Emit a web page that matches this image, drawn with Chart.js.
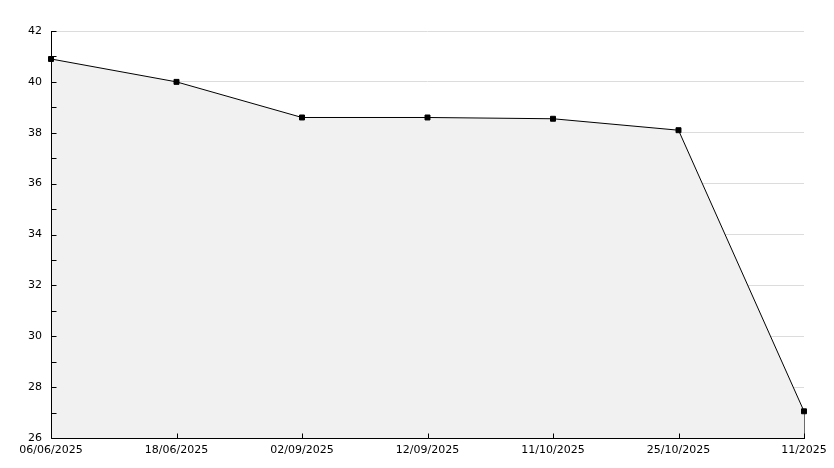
<!DOCTYPE html>
<html><head><meta charset="utf-8">
<script src="https://cdn.jsdelivr.net/npm/chart.js@4"></script>
<style>html,body{margin:0;padding:0;background:#fff}#wrap{width:834px;height:468px}</style>
</head><body><div id="wrap"><canvas id="c" width="834" height="468"></canvas></div>
<script>
const categories = ["06/06/2025","18/06/2025","02/09/2025","12/09/2025","11/10/2025","25/10/2025","11/2025"];
const values = [40.9, 40.0, 38.6, 38.6, 38.55, 38.1, 27.05];
const yMin = 26, yMax = 42;

const innerTicks = {
  id: 'innerTicks',
  afterDatasetsDraw(chart) {
    const ctx = chart.ctx, x = chart.scales.x, y = chart.scales.y, a = chart.chartArea;
    const L = Math.round(a.left) + 0.5, B = Math.round(a.bottom) + 0.5;
    ctx.save();
    ctx.strokeStyle = '#000'; ctx.lineWidth = 1;
    ctx.beginPath();
    ctx.moveTo(L, Math.round(a.top)); ctx.lineTo(L, B); ctx.lineTo(Math.round(a.right) + 1, B);
    y.ticks.forEach(t => { const py = Math.round(y.getPixelForValue(t.value)) + 0.5; ctx.moveTo(L, py); ctx.lineTo(L + 5, py); });
    categories.forEach((c, i) => { const px = Math.round(x.getPixelForValue(i)) + 0.5; ctx.moveTo(px, B); ctx.lineTo(px, B - 5); });
    ctx.stroke();
    ctx.restore();
  }
};

new Chart(document.getElementById('c'), {
  type: 'line',
  data: {
    labels: categories,
    datasets: [{
      data: values,
      borderColor: '#000', borderWidth: 1,
      backgroundColor: '#f1f1f1', fill: 'start',
      pointRadius: 3.5, pointBackgroundColor: '#000', pointBorderColor: '#000', pointStyle: 'rect',
      tension: 0
    }, {
      data: [{x: categories[categories.length-1], y: values[values.length-1]}, {x: categories[categories.length-1], y: yMin}],
      borderColor: '#000', borderWidth: 1, pointRadius: 0, fill: false
    }]
  },
  options: {
    responsive: false, animation: false,
    layout: {padding: {top: 31, right: 30, left: 0, bottom: 0}},
    plugins: {legend: {display: false}, tooltip: {enabled: false}},
    scales: {
      x: {
        offset: false,
        grid: {display: false, drawTicks: false},
        border: {display: false},
        ticks: {color: '#000', font: {family: 'DejaVu Sans', size: 11}, padding: 6, maxRotation: 0, autoSkip: false},
        afterFit(s) { s.height = 30; }
      },
      y: {
        min: yMin, max: yMax,
        grid: {drawTicks: false, color: ctx => (ctx.tick && ctx.tick.value % 2 === 0 && ctx.tick.value !== yMin) ? '#dcdcdc' : 'rgba(0,0,0,0)'},
        border: {display: false},
        ticks: {stepSize: 1, color: '#000', font: {family: 'DejaVu Sans', size: 11}, padding: 9,
          callback: v => (v % 2 === 0 ? String(v) : '')},
        afterFit(s) { s.width = 51; }
      }
    }
  },
  plugins: [innerTicks]
});
</script></body></html>
